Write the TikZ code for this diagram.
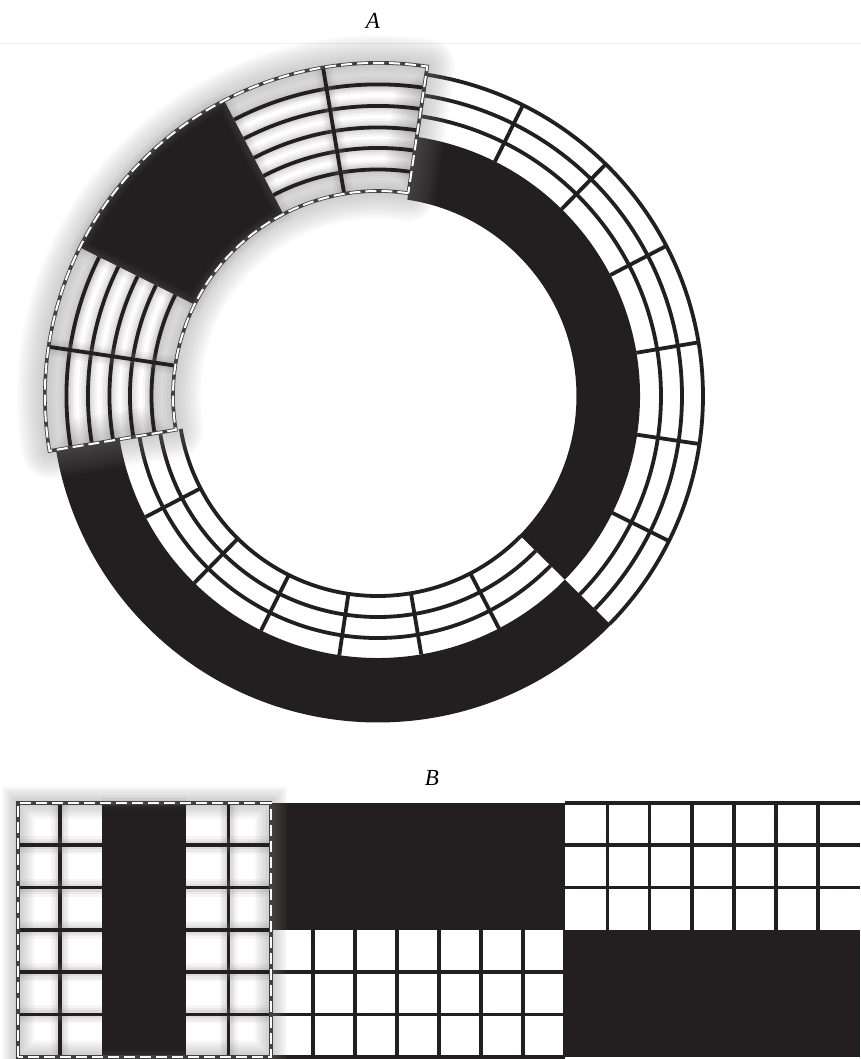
\documentclass[tikz,border=0pt]{standalone}
\usepackage{fontspec}
\setmainfont{Liberation Serif}
\definecolor{ink}{RGB}{35,31,32}
\newcommand{\ringsec}[4]{(#1:#3) arc[start angle=#1, end angle=#2, radius=#3] -- (#2:#4) arc[start angle=#2, end angle=#1, radius=#4] -- cycle}
\tikzset{
  cell/.style={draw=ink, line width=3.8pt},
  litcell/.style={cell, preaction={draw=gray, draw opacity=0.08, line width=18pt}, preaction={draw=gray, draw opacity=0.1, line width=13pt}, preaction={draw=gray, draw opacity=0.12, line width=8pt}},
  dashedge/.style={draw=gray!50!black, line width=3.6pt, postaction={draw=white, line width=2pt, dash pattern=on 11pt off 5pt}},
  lettering/.style={font=\fontsize{23}{27}\selectfont\itshape}
}

\begin{document}
\begin{tikzpicture}[x=1pt, y=1pt]
    \useasboundingbox (0,0) rectangle (861,1059);
    \draw[black!6, line width=1pt] (0,1015) -- (861,1015);
    \node[lettering] (labA) at (373,1038) {A};
    \node[lettering] (labB) at (432,281) {B};

    \begin{scope}[shift={(378,663)}]
        \fill[ink] \ringsec{315.5}{441.5}{198.5}{262};
        \foreach \r in {283,304,325} \draw[cell] (315.5:\r) arc[start angle=315.5, end angle=441.5, radius=\r];
        \foreach \a in {333.5,351.5,...,441.5} \draw[cell] (\a:262) -- (\a:325);

        \fill[ink] \ringsec{189.5}{315.5}{262}{326.5};
        \foreach \r in {200,221,242} \draw[cell] (189.5:\r) arc[start angle=189.5, end angle=315.5, radius=\r];
        \foreach \a in {207.5,225.5,...,297.5} \draw[cell] (\a:200) -- (\a:262);

        \begin{scope}[scale=1.025]
            \fill[white] \ringsec{81.5}{189.5}{200}{325};
            \foreach \w in {4,8,...,56} \draw[gray, line width=\w pt, draw opacity=0.036, line join=round] \ringsec{81.5}{189.5}{200}{325};
            \fill[ink] \ringsec{117.5}{153.5}{200}{325};
            \foreach \w in {4,8,12,16} \draw[gray, line width=\w pt, draw opacity=0.05] \ringsec{117.5}{153.5}{200}{325};
            \foreach \r in {221,242,262,283,304} {\draw[litcell] (81.5:\r) arc[start angle=81.5, end angle=117.5, radius=\r]; \draw[litcell] (153.5:\r) arc[start angle=153.5, end angle=189.5, radius=\r];}
            \foreach \a in {99.5,171.5} \draw[litcell] (\a:200) -- (\a:325);
            \draw[dashedge] \ringsec{81.5}{189.5}{200}{325};
        \end{scope}
    \end{scope}

    \begin{scope}[shift={(18,2.2)}, x=42.1pt, y=42.3pt]
        \fill[ink] (6,3) rectangle (13,6); \fill[ink] (13,0) rectangle (20,3);
        \foreach \i in {6,...,13} \draw[cell] (\i,0) -- (\i,3);
        \foreach \j in {0,1,2} \draw[cell] (6,\j) -- (13,\j);
        \foreach \i in {14,...,19} \draw[cell] (\i,3) -- (\i,6);
        \foreach \j in {4,5,6} \draw[cell] (13,\j) -- (20,\j);

        \foreach \w in {3,6,...,33} \draw[gray, line width=\w pt, draw opacity=0.045] (0,0) rectangle (6,6);
        \fill[ink] (2,0) rectangle (4,6);
        \foreach \w in {4,8,12} \draw[gray, line width=\w pt, draw opacity=0.06] (2,0) -- (4,0) (2,6) -- (4,6);
        \foreach \i in {1,5} \draw[litcell] (\i,0) -- (\i,6);
        \foreach \j in {1,...,5} {\draw[litcell] (0,\j) -- (2,\j); \draw[litcell] (4,\j) -- (6,\j);}
        \draw[dashedge] (0,0) rectangle (6,6);
    \end{scope}
\end{tikzpicture}
\end{document}
